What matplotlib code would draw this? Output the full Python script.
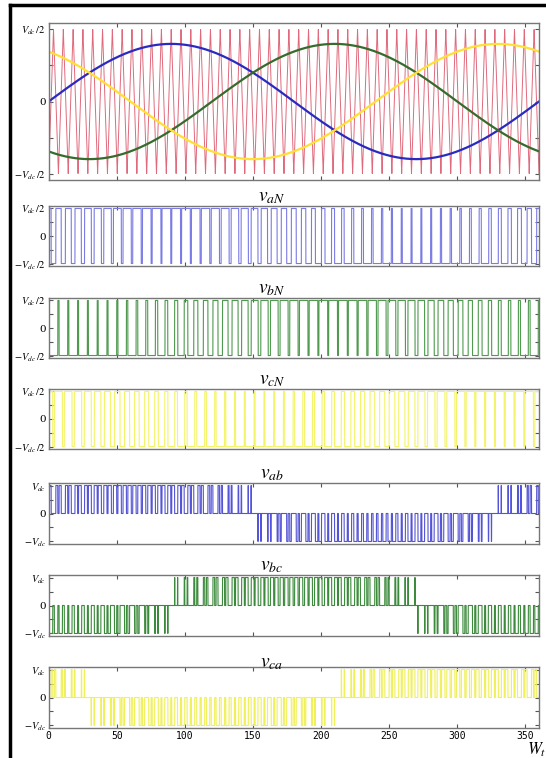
import numpy as np
import matplotlib
matplotlib.use("Agg")
import matplotlib.pyplot as plt
from matplotlib.lines import Line2D

plt.rcParams['mathtext.fontset'] = 'stix'
plt.rcParams['font.family'] = 'DejaVu Serif'

# ---------------------------------------------------------------
# chart values
# ---------------------------------------------------------------
mf = 50                      # carrier cycles per 360 deg
ma = 0.8                     # modulation index
phase_deg = [0, -120, 120]   # references a, b, c
ref_colors = ['#2a2ac0', '#356b2d', '#ffe033']
carrier_color = '#e06a7c'

phase_names = ['aN', 'bN', 'cN']
phase_colors = ['#7b7be6', '#4f9a4f', '#f4f46a']
line_names = ['ab', 'bc', 'ca']
line_pairs = [(0, 1), (1, 2), (2, 0)]
line_colors = ['#5454d6', '#3c8a3c', '#f0f05a']

xticks = [0, 50, 100, 150, 200, 250, 300, 350]
half_labels = [r'$-V_{dc}\,/2$', '', '0', '', r'$V_{dc}\,/2$']
full_labels = [r'$-V_{dc}$', '', '0', '', r'$V_{dc}$']

# ---------------------------------------------------------------
# waveforms
# ---------------------------------------------------------------
theta = np.linspace(0, 360, 36001)
frac = (theta * mf / 360.0) % 1.0
carrier = np.where(frac < 0.5, -1 + 4 * frac, 3 - 4 * frac)
refs = [ma * np.sin(np.radians(theta + p)) for p in phase_deg]
pulses = [np.where(r > carrier, 1.0, -1.0) for r in refs]
lines = [(pulses[i] - pulses[j]) / 2 for i, j in line_pairs]

# ---------------------------------------------------------------
# figure
# ---------------------------------------------------------------
W, H = 546, 758
fig = plt.figure(figsize=(W / 100, H / 100), dpi=100)

left = 48.6 / W
width = (539 - 48.6) / W
title_x = (272 - 48.6) / (539 - 48.6)   # titles sit at the figure centre


def make_ax(top, bottom):
    return fig.add_axes([left, 1 - bottom / H, width, (bottom - top) / H])


def style(ax, labels, show_x=False, ylim=1.09):
    ax.set_xlim(0, 360)
    ax.set_ylim(-ylim, ylim)
    ax.set_xticks(xticks)
    ax.set_yticks([-1, -0.5, 0, 0.5, 1])
    ax.set_yticklabels(labels, fontsize=7.5)
    ax.tick_params(direction='in', top=True, right=True, length=3,
                   color='#555555', pad=2)
    if show_x:
        ax.set_xticklabels([str(v) for v in xticks], fontsize=7,
                           family='DejaVu Sans Mono')
    else:
        ax.set_xticklabels([])
    for s in ax.spines.values():
        s.set_color('#777777')
        s.set_linewidth(1.0)


# top panel: carrier + references
ax0 = make_ax(23, 180)
ax0.plot(theta, carrier, color=carrier_color, lw=0.7)
for r, c in zip(refs, ref_colors):
    ax0.plot(theta, r, color=c, lw=1.6)
style(ax0, half_labels)

tops = [206, 298, 389, 483, 575, 667]
for k in range(3):
    ax = make_ax(tops[k], tops[k] + 60)
    ax.plot(theta, pulses[k], color=phase_colors[k], lw=0.8)
    style(ax, half_labels)
    ax.set_title(r'$v_{%s}$' % phase_names[k], fontsize=14, pad=0, x=title_x)

for k in range(3):
    ax = make_ax(tops[k + 3], tops[k + 3] + 61)
    ax.plot(theta, lines[k], color=line_colors[k], lw=0.8)
    style(ax, full_labels, show_x=(k == 2))
    ax.set_title(r'$v_{%s}$' % line_names[k], fontsize=14, pad=0, x=title_x)

fig.text(527 / W, 1 - 750 / H, r'$W_t$', fontsize=12, ha='left', va='center')

# outer frame (top and left edges are visible in the picture)
fig.add_artist(Line2D([10 / W, 1], [1 - 5 / H, 1 - 5 / H], color='black',
                      lw=2.5, transform=fig.transFigure))
fig.add_artist(Line2D([10 / W, 10 / W], [1 - 5 / H, 0], color='black',
                      lw=2.5, transform=fig.transFigure))

fig.savefig('out.png', dpi=100)
